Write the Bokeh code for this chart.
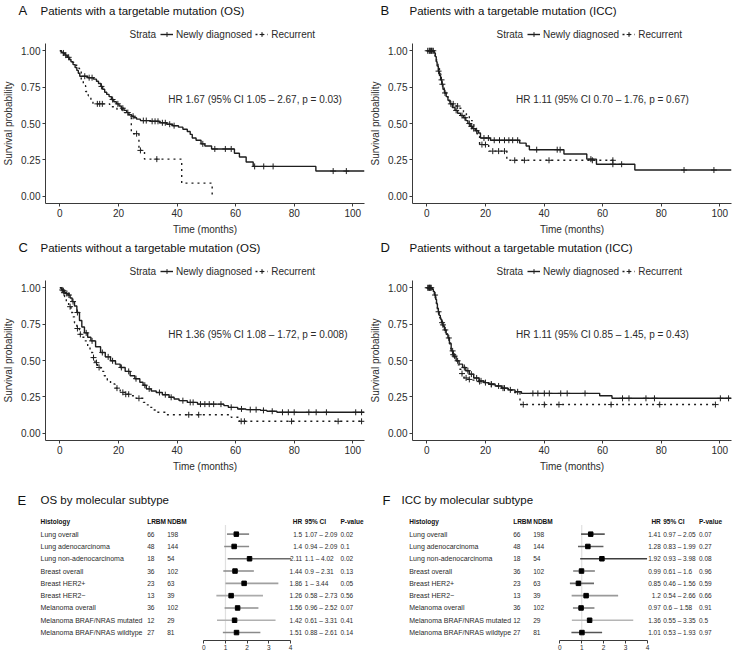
import numpy as np
from bokeh.plotting import figure
from bokeh.layouts import column, row
from bokeh.models import (Range1d, Label, Legend, LegendItem, FixedTicker,
                          PrintfTickFormatter, LinearAxis)
from bokeh.core.properties import value
from bokeh.embed import file_html
from bokeh.resources import INLINE

FONT = "Liberation Sans"
INK = "#1e1e1e"
TXT = "#2b2b2b"

# ---------------- Kaplan-Meier data ----------------
# Panel A: targetable mutation, OS
a_new_t = [0.5, 1.2, 1.8, 2.5, 3.2, 3.8, 4.5, 5.2, 5.8, 6.3, 6.8, 9.5, 11.5, 12.5, 13.2, 14.0, 14.6, 15.3,
           16.0, 16.8, 17.6, 18.4, 19.3, 20.2, 21.0, 21.9, 22.8, 23.6, 24.5, 25.3, 26.2, 27.5, 31.0, 34.0,
           36.5, 38.5, 40.5, 42.0, 43.5, 44.5, 45.2, 46.5, 48.2, 49.5, 51.8, 59.6, 61.3, 63.6, 66.0, 87.4]
a_new_s = [0.99, 0.98, 0.97, 0.955, 0.94, 0.925, 0.905, 0.885, 0.865, 0.845, 0.825, 0.815, 0.805, 0.79,
           0.775, 0.755, 0.735, 0.715, 0.70, 0.685, 0.665, 0.65, 0.635, 0.62, 0.605, 0.59, 0.575, 0.56,
           0.55, 0.54, 0.53, 0.52, 0.515, 0.505, 0.495, 0.485, 0.475, 0.46, 0.445, 0.425, 0.40, 0.385,
           0.36, 0.345, 0.325, 0.295, 0.27, 0.235, 0.205, 0.173]
a_new_end = 104.0
a_new_cens = [8.5, 10.0, 11.0, 14.2, 18.0, 19.8, 21.5, 23.2, 25.0, 28.5, 29.5, 31.5, 32.5, 33.5, 35.0, 36.0,
              37.5, 39.0, 48.8, 52.9, 56.5, 58.5, 66.5, 69.6, 72.8, 93.3, 97.8]
a_rec_t = [0.8, 1.6, 2.5, 3.4, 4.3, 5.2, 6.0, 6.7, 7.3, 8.0, 8.8, 9.7, 10.6, 11.3, 17.0, 19.5, 22.0, 23.2,
           24.4, 27.0, 28.9, 41.6, 52.0]
a_rec_s = [0.985, 0.97, 0.955, 0.94, 0.92, 0.90, 0.88, 0.86, 0.80, 0.76, 0.72, 0.69, 0.66, 0.635, 0.615,
           0.595, 0.575, 0.56, 0.43, 0.315, 0.255, 0.09, 0.0]
a_rec_end = 52.0
a_rec_cens = [1.2, 2.0, 3.0, 12.8, 13.6, 14.5, 26.2, 27.5, 33.1]

# Panel B: targetable mutation, ICC
b_new_t = [2.5, 2.9, 3.2, 3.5, 3.9, 4.3, 4.7, 5.1, 5.5, 6.0, 6.6, 7.2, 7.9, 8.7, 9.6, 10.5, 11.5, 12.5,
           13.3, 14.0, 14.8, 15.6, 16.6, 17.6, 18.3, 21.7, 31.7, 33.9, 35.0, 46.8, 54.6, 57.9, 71.0]
b_new_s = [0.985, 0.96, 0.925, 0.895, 0.86, 0.83, 0.80, 0.77, 0.735, 0.71, 0.685, 0.66, 0.635, 0.61, 0.59,
           0.57, 0.555, 0.54, 0.52, 0.50, 0.48, 0.465, 0.45, 0.435, 0.40, 0.385, 0.365, 0.345, 0.32, 0.29,
           0.255, 0.22, 0.18]
b_new_end = 104.0
b_new_cens = [0.3, 0.8, 1.3, 1.8, 2.2, 4.0, 5.3, 6.2, 8.2, 10.0, 12.0, 13.0, 14.5, 15.2, 16.0, 17.0, 19.5,
              21.0, 23.0, 24.8, 26.5, 28.0, 29.3, 31.0, 37.5, 44.5, 45.5, 56.0, 63.5, 66.5, 87.8, 98.0]
b_rec_t = [2.3, 2.8, 3.3, 3.8, 4.3, 4.8, 5.3, 5.9, 6.5, 7.2, 8.0, 9.5, 11.0, 12.5, 13.5, 14.5, 15.5, 16.5,
           17.2, 18.0, 21.1, 27.3]
b_rec_s = [0.985, 0.955, 0.92, 0.88, 0.84, 0.80, 0.76, 0.72, 0.685, 0.655, 0.635, 0.62, 0.605, 0.58, 0.55,
           0.52, 0.49, 0.46, 0.41, 0.355, 0.31, 0.247]
b_rec_end = 64.0
b_rec_cens = [1.0, 1.6, 5.0, 9.0, 10.5, 18.8, 20.0, 22.5, 24.5, 26.5, 30.0, 33.3, 41.7, 56.5, 63.5]

# Panel C: no targetable mutation, OS
c_new_t = [0.5, 1.0, 1.5, 2.0, 2.8, 3.5, 4.2, 5.0, 5.8, 6.7, 7.5, 8.4, 9.5, 10.6, 12.2, 13.9, 15.5, 17.3,
           19.0, 20.6, 22.3, 24.0, 25.6, 27.3, 28.4, 29.5, 31.2, 32.9, 35.0, 37.3, 39.0, 40.7, 43.5, 47.0,
           56.0, 57.5, 60.7, 63.5, 68.5, 70.7, 74.1]
c_new_s = [0.99, 0.98, 0.97, 0.96, 0.95, 0.93, 0.905, 0.875, 0.83, 0.775, 0.73, 0.69, 0.66, 0.635, 0.595,
           0.555, 0.525, 0.498, 0.475, 0.452, 0.425, 0.395, 0.375, 0.35, 0.33, 0.305, 0.29, 0.28, 0.265,
           0.247, 0.235, 0.224, 0.212, 0.20, 0.19, 0.178, 0.167, 0.162, 0.157, 0.151, 0.144]
c_new_end = 104.0
c_new_cens = [1.2, 2.4, 3.1, 4.5, 6.0, 9.0, 11.0, 14.5, 16.5, 18.0, 21.0, 23.5, 26.0, 29.0, 30.5, 34.0, 36.0,
              38.0, 42.0, 44.5, 45.5, 48.0, 49.5, 51.0, 52.5, 55.0, 58.5, 62.0, 65.0, 67.0, 69.5, 72.5,
              76.0, 78.0, 80.0, 85.0, 87.5, 91.0, 101.0, 103.0]
c_rec_t = [0.5, 1.1, 1.6, 2.2, 3.0, 3.8, 4.4, 5.0, 5.8, 6.7, 7.5, 8.4, 9.5, 10.3, 11.2, 12.0, 12.9, 14.0,
           15.1, 16.2, 17.3, 18.8, 20.6, 22.3, 24.0, 26.0, 28.5, 29.5, 30.6, 31.8, 32.9, 36.2, 58.5, 61.3]
c_rec_s = [0.985, 0.966, 0.94, 0.90, 0.87, 0.83, 0.80, 0.76, 0.72, 0.68, 0.66, 0.635, 0.59, 0.555, 0.52,
           0.485, 0.452, 0.425, 0.395, 0.365, 0.338, 0.31, 0.281, 0.268, 0.258, 0.24, 0.212, 0.195, 0.178,
           0.16, 0.144, 0.127, 0.11, 0.082]
c_rec_end = 103.5
c_rec_cens = [0.8, 1.4, 3.5, 6.0, 7.0, 11.5, 12.5, 13.4, 19.5, 21.5, 22.5, 23.5, 27.0, 44.0, 47.4, 61.9,
              63.0, 79.1, 95.0, 103.0]

# Panel D: no targetable mutation, ICC
d_new_t = [1.8, 2.2, 2.6, 3.0, 3.3, 3.6, 3.9, 4.2, 4.6, 5.0, 5.5, 6.0, 6.6, 7.2, 7.7, 8.3, 9.0, 10.0, 11.0,
           12.2, 13.3, 14.5, 16.0, 17.8, 19.5, 21.1, 23.3, 25.6, 27.8, 30.1, 32.3, 59.0, 63.2]
d_new_s = [0.99, 0.975, 0.95, 0.92, 0.89, 0.86, 0.835, 0.81, 0.785, 0.76, 0.735, 0.71, 0.68, 0.655, 0.615,
           0.566, 0.53, 0.498, 0.475, 0.452, 0.43, 0.406, 0.38, 0.36, 0.348, 0.338, 0.325, 0.31, 0.298,
           0.285, 0.274, 0.258, 0.24]
d_new_end = 104.0
d_new_cens = [0.3, 0.6, 0.9, 1.2, 1.5, 2.8, 4.0, 5.2, 6.3, 7.5, 8.8, 9.5, 10.5, 12.8, 14.0, 15.2, 17.0,
              18.5, 20.0, 22.0, 24.5, 26.5, 28.5, 31.0, 36.2, 37.9, 40.1, 41.8, 45.7, 47.9, 54.0, 66.8,
              69.0, 74.8, 77.7, 100.2, 103.0]
d_rec_t = [1.8, 2.2, 2.6, 3.0, 3.3, 3.6, 4.0, 4.4, 4.8, 5.3, 5.8, 6.4, 7.0, 7.6, 8.2, 8.8, 9.5, 10.3, 11.0,
           11.8, 12.7, 13.8, 15.5, 17.5, 19.5, 21.5, 23.5, 25.5, 27.5, 29.5, 31.8]
d_rec_s = [0.99, 0.97, 0.94, 0.91, 0.88, 0.85, 0.82, 0.795, 0.77, 0.745, 0.72, 0.69, 0.66, 0.62, 0.58, 0.54,
           0.50, 0.47, 0.44, 0.41, 0.38, 0.37, 0.365, 0.355, 0.345, 0.335, 0.325, 0.31, 0.295, 0.28, 0.197]
d_rec_end = 99.5
d_rec_cens = [1.0, 5.5, 9.0, 12.0, 13.4, 14.5, 18.0, 22.0, 26.0, 32.9, 40.1, 45.1, 62.9, 79.5, 98.5]

x_ticks = [0, 20, 40, 60, 80, 100]
y_ticks = [0.0, 0.25, 0.5, 0.75, 1.0]
strata_labels = ["Newly diagnosed", "Recurrent"]

# ---------------- Forest data ----------------
histology = ["Lung overall", "Lung adenocarcinoma", "Lung non-adenocarcinoma", "Breast overall",
             "Breast HER2+", "Breast HER2\u2212", "Melanoma overall", "Melanoma BRAF/NRAS mutated",
             "Melanoma BRAF/NRAS wildtype"]
lrbm = [66, 48, 18, 36, 23, 13, 36, 12, 27]
ndbm = [198, 144, 54, 102, 63, 39, 102, 29, 81]
os_hr = [1.5, 1.4, 2.11, 1.44, 1.86, 1.26, 1.56, 1.42, 1.51]
os_lo = [1.07, 0.94, 1.1, 0.9, 1, 0.58, 0.96, 0.61, 0.88]
os_hi = [2.09, 2.09, 4.02, 2.31, 3.44, 2.73, 2.52, 3.31, 2.61]
os_p = [0.02, 0.1, 0.02, 0.13, 0.05, 0.56, 0.07, 0.41, 0.14]
icc_hr = [1.41, 1.28, 1.92, 0.99, 0.85, 1.2, 0.97, 1.36, 1.01]
icc_lo = [0.97, 0.83, 0.93, 0.61, 0.46, 0.54, 0.6, 0.55, 0.53]
icc_hi = [2.05, 1.99, 3.98, 1.6, 1.56, 2.66, 1.58, 3.35, 1.93]
icc_p = [0.07, 0.27, 0.08, 0.96, 0.59, 0.66, 0.91, 0.5, 0.97]
hr_ticks = [0, 1, 2, 3, 4]


def surv_at(times, surv, t):
    idx = int(np.searchsorted(np.asarray(times), t, side="right")) - 1
    return 1.0 if idx < 0 else surv[idx]


# ---------------- layout constants ----------------
PW = 367                    # width of each column
FH = 161                    # KM frame height
BT, BB, BL, BR = 3, 33, 41, 3
HEAD_H = 40                 # header strip (title + legend) above each KM plot
DOT = "2 4"


def make_fig(**kw):
    try:
        return figure(frame_align=False, **kw)
    except Exception:
        return figure(**kw)


def style_axis(ax):
    ax.axis_line_color = "#3a3a3a"
    ax.axis_line_width = 1
    ax.major_tick_line_color = "#3a3a3a"
    ax.major_tick_out = 3
    ax.major_tick_in = 0
    ax.minor_tick_line_color = None
    ax.major_label_text_font_size = "10px"
    ax.major_label_text_font = FONT
    ax.major_label_text_color = TXT
    ax.major_label_standoff = 2
    ax.axis_label_text_font_size = "10px"
    ax.axis_label_text_font = FONT
    ax.axis_label_text_font_style = "normal"
    ax.axis_label_text_color = TXT
    ax.axis_label_standoff = 4


def header(letter, title, letter_dx, title_dx):
    h = make_fig(width=PW, height=HEAD_H, x_range=Range1d(0, PW), y_range=Range1d(0, HEAD_H),
                 output_backend="svg", toolbar_location=None, x_axis_location=None, y_axis_location=None,
                 min_border_left=0, min_border_right=0, min_border_top=0, min_border_bottom=0)
    h.outline_line_color = None
    h.grid.visible = False
    # legend keys only (drawn off-canvas)
    ln_new = h.line([-90, -80], [-90, -90], line_color=INK, line_width=1.4)
    mk_new = h.scatter([-85], [-90], marker="cross", size=6, line_color=INK, line_width=1)
    ln_rec = h.line([-90, -80], [-90, -90], line_color=INK, line_width=1.4, line_dash=DOT)
    mk_rec = h.scatter([-85], [-90], marker="cross", size=6, line_color=INK, line_width=1)
    leg = Legend(items=[LegendItem(label=strata_labels[0], renderers=[ln_new, mk_new]),
                        LegendItem(label=strata_labels[1], renderers=[ln_rec, mk_rec])],
                 location=(BL + 119, 0), orientation="horizontal",
                 padding=0, margin=0, spacing=3, glyph_width=13, glyph_height=12,
                 label_standoff=3, label_height=12, label_text_font_size="10px",
                 label_text_font=FONT, label_text_color=TXT,
                 border_line_color=None, background_fill_alpha=0)
    h.add_layout(leg)
    h.add_layout(Label(x=BL + 88, y=6, text="Strata", text_font=FONT, text_font_size="10px",
                       text_color=TXT, text_baseline="middle"))
    h.add_layout(Label(x=BL + letter_dx, y=HEAD_H - 10, text=letter, text_font=FONT, text_font_size="13px",
                       text_color="#111111", text_baseline="middle"))
    h.add_layout(Label(x=BL + title_dx, y=HEAD_H - 10, text=title, text_font=FONT, text_font_size="11.5px",
                       text_color="#111111", text_baseline="middle"))
    return h


def km_panel(hr_text, hr_x, hr_y, new, rec):
    p = make_fig(width=PW, height=BT + FH + BB,
                 x_range=Range1d(-4.9, 104.0), y_range=Range1d(-0.05, 1.05),
                 output_backend="svg", toolbar_location=None,
                 min_border_left=BL, min_border_right=BR, min_border_top=BT, min_border_bottom=BB)
    p.outline_line_color = None
    p.xgrid.visible = False
    p.ygrid.visible = False
    for (t, s, end, cens), dash in ((rec, DOT), (new, "solid")):
        xs = [0.0] + list(t) + [end]
        ys = [1.0] + list(s) + [s[-1]]
        p.step(xs, ys, mode="after", line_color=INK, line_width=1.4, line_dash=dash)
        cy = [surv_at(t, s, c) for c in cens]
        p.scatter(cens, cy, marker="cross", size=6, line_color=INK, line_width=1)

    xa, ya = p.xaxis[0], p.yaxis[0]
    xa.ticker = FixedTicker(ticks=x_ticks)
    ya.ticker = FixedTicker(ticks=y_ticks)
    ya.formatter = PrintfTickFormatter(format="%.2f")
    style_axis(xa)
    style_axis(ya)
    xa.axis_label = "Time (months)"
    ya.axis_label = "Survival probability"
    p.add_layout(Label(x=hr_x, y=hr_y, text=hr_text, text_font=FONT, text_font_size="10px",
                       text_color=TXT, text_baseline="middle"))
    return p


FOREST_H, FOREST_BB = 178, 12
ROW_PX = 12.3
R_TOP = -4.85
R_BOT = R_TOP + (FOREST_H - FOREST_BB) / ROW_PX


def fmt(v):
    return f"{v:g}"


def forest_panel(letter, title, hr, lo, hi, pv, cols, ci_colors):
    p = make_fig(width=PW, height=FOREST_H, x_range=Range1d(0, PW), y_range=Range1d(R_BOT, R_TOP),
                 output_backend="svg", toolbar_location=None, x_axis_location=None, y_axis_location=None,
                 min_border_left=0, min_border_right=0, min_border_top=0, min_border_bottom=FOREST_BB)
    p.outline_line_color = None
    p.grid.visible = False
    unit = (cols["hr4"] - cols["hr0"]) / 4.0
    p.extra_x_ranges = {"hr": Range1d(-cols["hr0"] / unit, (PW - cols["hr0"]) / unit)}
    rows = list(range(len(histology)))

    p.segment(x0=[1], y0=[-0.75], x1=[1], y1=[R_BOT], x_range_name="hr", line_color="#e0e0e0", line_width=1.2)
    p.segment(x0=lo, y0=rows, x1=hi, y1=rows, x_range_name="hr", line_color=ci_colors, line_width=1.6)
    p.scatter(hr, rows, marker="square", size=4.5, fill_color="black", line_color="black", x_range_name="hr")

    ax = LinearAxis(x_range_name="hr", ticker=FixedTicker(ticks=hr_ticks), bounds=(0, 4))
    ax.axis_line_color = "#3a3a3a"
    ax.major_tick_line_color = "#3a3a3a"
    ax.major_tick_out = 3
    ax.major_tick_in = 0
    ax.minor_tick_line_color = None
    ax.major_label_text_font_size = "6.5px"
    ax.major_label_text_font = FONT
    ax.major_label_text_color = TXT
    ax.major_label_standoff = 1
    p.add_layout(ax, "below")

    name = dict(text_font=value(FONT), text_font_size="7px", text_color=TXT, text_baseline="middle")
    num = dict(name, text_font_size="6.6px")
    stat = dict(name, text_font_size="6.5px")
    head = dict(name, text_font_size="6.5px", text_font_style="bold", text_color="#111111")
    p.text(x=cols["hist"], y=rows, text=histology, **name)
    p.text(x=cols["lrbm"], y=rows, text=[str(v) for v in lrbm], **num)
    p.text(x=cols["ndbm"], y=rows, text=[str(v) for v in ndbm], **num)
    p.text(x=cols["hrr"], y=rows, text=[fmt(v) for v in hr], text_align="right", **stat)
    p.text(x=cols["ci"], y=rows, text=[f"{fmt(a)} \u2013 {fmt(b)}" for a, b in zip(lo, hi)], **stat)
    p.text(x=cols["p"], y=rows, text=[fmt(v) for v in pv], **stat)

    hy = [-1]
    p.text(x=cols["hist"], y=hy, text=["Histology"], **head)
    p.text(x=cols["lrbm"], y=hy, text=["LRBM"], **head)
    p.text(x=cols["ndbm"], y=hy, text=["NDBM"], **head)
    p.text(x=cols["hrr"], y=hy, text=["HR"], text_align="right", **head)
    p.text(x=cols["ci"], y=hy, text=["95% CI"], **head)
    p.text(x=cols["p"], y=hy, text=["P-value"], **head)

    ty = -1 - 21.5 / ROW_PX
    p.add_layout(Label(x=cols["letter"], y=ty, text=letter, text_font=FONT, text_font_size="13px",
                       text_color="#111111", text_baseline="middle"))
    p.add_layout(Label(x=cols["title"], y=ty, text=title, text_font=FONT, text_font_size="11.5px",
                       text_color="#111111", text_baseline="middle"))
    return p


hA = header("A", "Patients with a targetable mutation (OS)", -23, -1)
pA = km_panel("HR 1.67 (95% CI 1.05 \u2013 2.67, p = 0.03)", 37.0, 0.664,
              (a_new_t, a_new_s, a_new_end, a_new_cens), (a_rec_t, a_rec_s, a_rec_end, a_rec_cens))
hB = header("B", "Patients with a targetable mutation (ICC)", -28, 1)
pB = km_panel("HR 1.11 (95% CI 0.70 \u2013 1.76, p = 0.67)", 30.4, 0.664,
              (b_new_t, b_new_s, b_new_end, b_new_cens), (b_rec_t, b_rec_s, b_rec_end, b_rec_cens))
hC = header("C", "Patients without a targetable mutation (OS)", -23, -1)
pC = km_panel("HR 1.36 (95% CI 1.08 \u2013 1.72, p = 0.008)", 37.0, 0.68,
              (c_new_t, c_new_s, c_new_end, c_new_cens), (c_rec_t, c_rec_s, c_rec_end, c_rec_cens))
hD = header("D", "Patients without a targetable mutation (ICC)", -28, 1)
pD = km_panel("HR 1.11 (95% CI 0.85 \u2013 1.45, p = 0.43)", 30.4, 0.676,
              (d_new_t, d_new_s, d_new_end, d_new_cens), (d_rec_t, d_rec_s, d_rec_end, d_rec_cens))

cols_E = {"letter": 17, "title": 40, "hist": 40, "lrbm": 146.7, "ndbm": 166.7, "hr0": 203.3, "hr4": 290,
          "hrr": 301.7, "ci": 304.3, "p": 340}
cols_F = {"letter": 15, "title": 34, "hist": 41.7, "lrbm": 145.7, "ndbm": 165.7, "hr0": 192.3, "hr4": 280,
          "hrr": 293.3, "ci": 295.7, "p": 331.5}
ci_col_E = ["#8a8a8a", "#8a8a8a", "#6a6a6a", "#8a8a8a", "#a0a0a0", "#ababab", "#8f8f8f", "#b0b0b0", "#8a8a8a"]
ci_col_F = ["#5a5a5a", "#606060", "#3e3e3e", "#7a7a7a", "#6a6a6a", "#9a9a9a", "#7a7a7a", "#b5b5b5", "#555555"]

pE = forest_panel("E", "OS by molecular subtype", os_hr, os_lo, os_hi, os_p, cols_E, ci_col_E)
pF = forest_panel("F", "ICC by molecular subtype", icc_hr, icc_lo, icc_hi, icc_p, cols_F, ci_col_F)

layout = column(row(hA, hB), row(pA, pB),
                row(hC, hD), row(pC, pD),
                row(pE, pF))

with open("out.html", "w") as f:
    f.write(file_html(layout, INLINE))
